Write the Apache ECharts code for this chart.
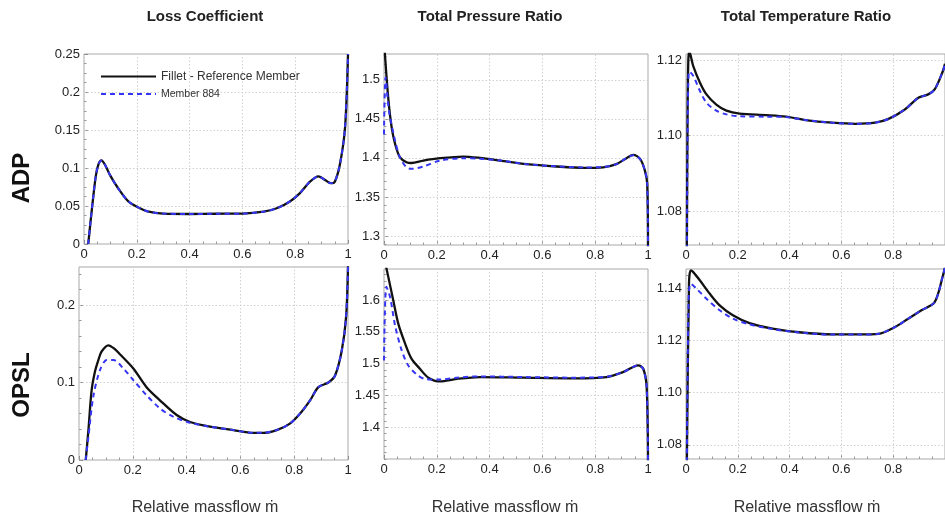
<!DOCTYPE html>
<html><head><meta charset="utf-8">
<script src="https://cdn.jsdelivr.net/npm/echarts@6/dist/echarts.min.js"></script>
<style>html,body{margin:0;padding:0;background:#fff}#c{width:945px;height:519px}</style>
</head><body><div id="c"></div>
<script>
// ---------- tick labels ----------
const xTicks = [0, 0.2, 0.4, 0.6, 0.8, 1];
const xTicksCut = [0, 0.2, 0.4, 0.6, 0.8];
const lossTicksADP = [0, 0.05, 0.1, 0.15, 0.2, 0.25];
const lossTicksOPSL = [0, 0.1, 0.2];
const presTicksADP = [1.3, 1.35, 1.4, 1.45, 1.5];
const presTicksOPSL = [1.4, 1.45, 1.5, 1.55, 1.6];
const tempTicksADP = [1.08, 1.10, 1.12];
const tempTicksOPSL = [1.08, 1.10, 1.12, 1.14];

const colTitles = ['Loss Coefficient', 'Total Pressure Ratio', 'Total Temperature Ratio'];
const rowTitles = ['ADP', 'OPSL'];
const xName = 'Relative massflow \u1E41';
const seriesNames = ['Fillet - Reference Member', 'Member 884'];

// ---------- series data [relative massflow, value] ----------
const adpLossRef = [[0.016,0],[0.025,0.03],[0.035,0.062],[0.045,0.09],[0.055,0.105],[0.066,0.11],[0.08,0.104],[0.098,0.091],[0.13,0.073],[0.168,0.056],[0.212,0.047],[0.24,0.043],[0.3,0.04],[0.4,0.0395],[0.5,0.0398],[0.6,0.04],[0.68,0.0425],[0.73,0.047],[0.78,0.056],[0.818,0.067],[0.856,0.082],[0.888,0.089],[0.91,0.085],[0.935,0.08],[0.95,0.082],[0.97,0.106],[0.989,0.154],[1.0,0.25]];
const adpLoss884 = [[0.016,0],[0.025,0.03],[0.035,0.062],[0.045,0.09],[0.055,0.105],[0.066,0.11],[0.08,0.104],[0.098,0.091],[0.13,0.073],[0.168,0.056],[0.212,0.047],[0.24,0.043],[0.3,0.04],[0.4,0.0395],[0.5,0.0398],[0.6,0.04],[0.68,0.0425],[0.73,0.047],[0.78,0.056],[0.818,0.067],[0.856,0.082],[0.888,0.089],[0.91,0.085],[0.935,0.08],[0.95,0.082],[0.97,0.106],[0.989,0.154],[1.0,0.25]];

const adpPresRef = [[0.002,1.54],[0.016,1.477],[0.029,1.439],[0.042,1.418],[0.06,1.401],[0.085,1.3945],[0.104,1.3935],[0.149,1.3966],[0.212,1.3996],[0.3,1.4017],[0.363,1.4],[0.44,1.3966],[0.54,1.392],[0.654,1.389],[0.755,1.3873],[0.83,1.388],[0.88,1.392],[0.92,1.4],[0.944,1.4038],[0.97,1.3987],[0.988,1.384],[0.997,1.367],[1.0,1.28]];
const adpPres884 = [[0.0,1.43],[0.006,1.503],[0.019,1.46],[0.042,1.422],[0.06,1.401],[0.085,1.388],[0.104,1.386],[0.149,1.389],[0.212,1.3966],[0.3,1.3996],[0.363,1.399],[0.44,1.3966],[0.54,1.392],[0.654,1.3892],[0.755,1.3878],[0.83,1.3885],[0.88,1.392],[0.92,1.4],[0.944,1.4035],[0.97,1.3985],[0.988,1.384],[0.997,1.367],[1.0,1.28]];

const adpTempRef = [[0.003,1.065],[0.006,1.105],[0.009,1.12],[0.013,1.1222],[0.028,1.1184],[0.054,1.114],[0.079,1.1109],[0.117,1.1082],[0.156,1.1066],[0.207,1.1058],[0.309,1.1054],[0.386,1.105],[0.462,1.1041],[0.565,1.1034],[0.654,1.1031],[0.73,1.1034],[0.782,1.1044],[0.845,1.1069],[0.897,1.11],[0.935,1.1109],[0.96,1.1122],[0.992,1.1171],[1.0,1.119]];
const adpTemp884 = [[0.003,1.065],[0.006,1.1],[0.009,1.114],[0.013,1.117],[0.028,1.1158],[0.054,1.1118],[0.079,1.1087],[0.117,1.1066],[0.156,1.1056],[0.207,1.1051],[0.309,1.105],[0.386,1.1049],[0.462,1.1041],[0.565,1.1034],[0.654,1.1031],[0.73,1.1034],[0.782,1.1044],[0.845,1.1069],[0.897,1.11],[0.935,1.1109],[0.96,1.1122],[0.992,1.1171],[1.0,1.119]];

const opslLossRef = [[0.025,0],[0.035,0.0386],[0.047,0.09],[0.06,0.115],[0.072,0.129],[0.084,0.14],[0.109,0.148],[0.13,0.144],[0.152,0.1365],[0.202,0.118],[0.251,0.094],[0.301,0.077],[0.363,0.058],[0.413,0.049],[0.487,0.043],[0.574,0.0386],[0.648,0.035],[0.685,0.035],[0.735,0.0386],[0.784,0.047],[0.822,0.06],[0.859,0.077],[0.89,0.094],[0.927,0.1],[0.952,0.109],[0.977,0.1416],[0.993,0.185],[1.0,0.25]];
const opslLoss884 = [[0.025,0],[0.035,0.03],[0.053,0.0815],[0.078,0.116],[0.103,0.129],[0.128,0.129],[0.165,0.118],[0.202,0.103],[0.251,0.0837],[0.301,0.0665],[0.35,0.056],[0.413,0.048],[0.487,0.043],[0.574,0.0386],[0.648,0.035],[0.685,0.035],[0.735,0.0386],[0.784,0.047],[0.822,0.06],[0.859,0.077],[0.89,0.094],[0.927,0.1],[0.952,0.109],[0.977,0.1416],[0.993,0.185],[1.0,0.25]];

const opslPresRef = [[0.004,1.66],[0.016,1.637],[0.035,1.6],[0.054,1.563],[0.08,1.5316],[0.104,1.508],[0.136,1.492],[0.168,1.478],[0.212,1.472],[0.275,1.476],[0.364,1.479],[0.528,1.478],[0.717,1.477],[0.843,1.479],[0.907,1.487],[0.963,1.4974],[0.982,1.492],[0.995,1.463],[1.0,1.34]];
const opslPres884 = [[0.0,1.505],[0.009,1.621],[0.023,1.605],[0.042,1.56],[0.067,1.521],[0.092,1.497],[0.124,1.483],[0.155,1.476],[0.212,1.475],[0.275,1.478],[0.364,1.48],[0.528,1.479],[0.717,1.478],[0.843,1.4795],[0.907,1.487],[0.963,1.4974],[0.982,1.492],[0.995,1.463],[1.0,1.34]];

const opslTempRef = [[0.003,1.07],[0.0115,1.1417],[0.018,1.1468],[0.028,1.1461],[0.054,1.1429],[0.092,1.1378],[0.13,1.1334],[0.181,1.1296],[0.245,1.1266],[0.334,1.1245],[0.437,1.1231],[0.564,1.1223],[0.667,1.1223],[0.743,1.1225],[0.807,1.1251],[0.858,1.1283],[0.909,1.1315],[0.96,1.1346],[0.992,1.1448],[1.0,1.148]];
const opslTemp884 = [[0.003,1.07],[0.01,1.135],[0.018,1.1417],[0.041,1.1397],[0.079,1.1359],[0.13,1.1315],[0.181,1.1283],[0.245,1.1261],[0.334,1.1243],[0.437,1.123],[0.564,1.1222],[0.667,1.1222],[0.743,1.1225],[0.807,1.1251],[0.858,1.1283],[0.909,1.1315],[0.96,1.1346],[0.992,1.1448],[1.0,1.148]];

// ---------- layout ----------
const FONT = '"Liberation Sans", Arial, sans-serif';
const fmt2 = v => Number(v).toFixed(2);
const panels = [
  {grid:{left:84, top:54, width:264, height:190}, xLab:xTicks, yMin:0, yMax:0.25, yLab:lossTicksADP, yMinor:0.0125, ref:adpLossRef, mem:adpLoss884},
  {grid:{left:384, top:54, width:264, height:191}, xLab:xTicks, yMin:1.2885, yMax:1.533, yLab:presTicksADP, yMinor:0.01, ref:adpPresRef, mem:adpPres884},
  {grid:{left:686, top:54, width:261, height:191}, xLab:xTicksCut, yMin:1.071, yMax:1.1216, yLab:tempTicksADP, yMinor:0.005, ref:adpTempRef, mem:adpTemp884, fmt:fmt2},
  {grid:{left:79, top:267, width:269, height:193}, xLab:xTicks, yMin:0, yMax:0.249, yLab:lossTicksOPSL, yMinor:0.02, ref:opslLossRef, mem:opslLoss884},
  {grid:{left:384, top:269, width:264, height:190}, xLab:xTicks, yMin:1.35, yMax:1.649, yLab:presTicksOPSL, yMinor:0.01, ref:opslPresRef, mem:opslPres884},
  {grid:{left:686, top:269, width:261, height:190}, xLab:xTicksCut, yMin:1.0746, yMax:1.1473, yLab:tempTicksOPSL, yMinor:0.005, ref:opslTempRef, mem:opslTemp884, fmt:fmt2}
];

function minorVals(min, max, step) {
  const out = [];
  for (let k = Math.ceil(min / step - 1e-9); k * step <= max + 1e-9; k++) out.push(Math.round(k * step * 1e6) / 1e6);
  return out;
}

const grids = [], xAxes = [], yAxes = [], series = [];
panels.forEach((p, i) => {
  grids.push(Object.assign({show:true, borderColor:'#a9a9a9', borderWidth:1, containLabel:false}, p.grid));
  const base = (pos, min, max) => ({type:'value', gridIndex:i, position:pos, min:min, max:max,
    axisLine:{show:false}, splitLine:{show:false}, minorSplitLine:{show:false}, minorTick:{show:false}});
  // major ticks + labels
  const mainAxis = (pos, min, max, labels, fmt) => Object.assign(base(pos, min, max), {
    axisTick:{show:true, inside:true, length:4, customValues:labels, lineStyle:{color:'#888', width:1}},
    axisLabel:{show:true, customValues:labels, fontSize:13, color:'#222', fontFamily:FONT, margin:4, formatter:fmt || null}
  });
  // minor ticks
  const minorAxis = (pos, min, max, step) => Object.assign(base(pos, min, max), {
    axisTick:{show:true, inside:true, length:2.5, customValues:minorVals(min, max, step), lineStyle:{color:'#999', width:1}},
    axisLabel:{show:false}
  });
  // dotted grid lines at the major values (full-length ticks)
  const gridAxis = (pos, min, max, labels, len) => Object.assign(base(pos, min, max), {
    axisTick:{show:true, inside:true, length:len, customValues:labels.filter(v => v > min && v < max),
      lineStyle:{color:'#d0d0d0', width:1, type:[1.5,2]}},
    axisLabel:{show:false}
  });
  const xi = xAxes.length, yi = yAxes.length;
  xAxes.push(mainAxis('bottom', 0, 1, p.xLab));
  xAxes.push(minorAxis('bottom', 0, 1, 0.05));
  xAxes.push(gridAxis('bottom', 0, 1, p.xLab, p.grid.height));
  yAxes.push(mainAxis('left', p.yMin, p.yMax, p.yLab, p.fmt));
  yAxes.push(minorAxis('left', p.yMin, p.yMax, p.yMinor));
  yAxes.push(gridAxis('left', p.yMin, p.yMax, p.yLab, p.grid.width));
  series.push({type:'line', name:seriesNames[0], xAxisIndex:xi, yAxisIndex:yi, data:p.ref, symbol:'none', smooth:0.3, z:2,
    lineStyle:{color:'#111', width:2.3}, itemStyle:{color:'#111'}, clip:true});
  series.push({type:'line', name:seriesNames[1], xAxisIndex:xi, yAxisIndex:yi, data:p.mem, symbol:'none', smooth:0.3, z:3,
    lineStyle:{color:'#3535f5', width:2, type:[5,4]}, itemStyle:{color:'#3535f5'}, clip:true});
});

const graphics = [];
const titleX = [205, 490, 806];
colTitles.forEach((t, j) => graphics.push({type:'text', x:titleX[j], y:17, style:{text:t, font:'bold 15px ' + FONT, fill:'#222', align:'center', verticalAlign:'middle'}}));
const rowY = [178, 385];
rowTitles.forEach((t, j) => graphics.push({type:'text', x:22, y:rowY[j], rotation:Math.PI/2, style:{text:t, font:'bold 24px ' + FONT, fill:'#111', align:'center', verticalAlign:'middle'}}));
[205, 505, 807].forEach(x => graphics.push({type:'text', x:x, y:508, style:{text:xName, font:'16px ' + FONT, fill:'#333', align:'center', verticalAlign:'middle'}}));

const chart = echarts.init(document.getElementById('c'), null, {renderer:'canvas'});
chart.setOption({
  animation:false,
  backgroundColor:'#fff',
  grid:grids, xAxis:xAxes, yAxis:yAxes, series:series,
  legend:{left:95, top:65.5, orient:'vertical', itemWidth:55, itemHeight:10, itemGap:6,
    itemStyle:{color:'rgba(0,0,0,0)', borderWidth:0, opacity:0},
    data:[{name:seriesNames[0], textStyle:{fontSize:12}}, {name:seriesNames[1], textStyle:{fontSize:10.5}}],
    textStyle:{color:'#333', fontFamily:FONT}},
  graphic:graphics
});
</script></body></html>
